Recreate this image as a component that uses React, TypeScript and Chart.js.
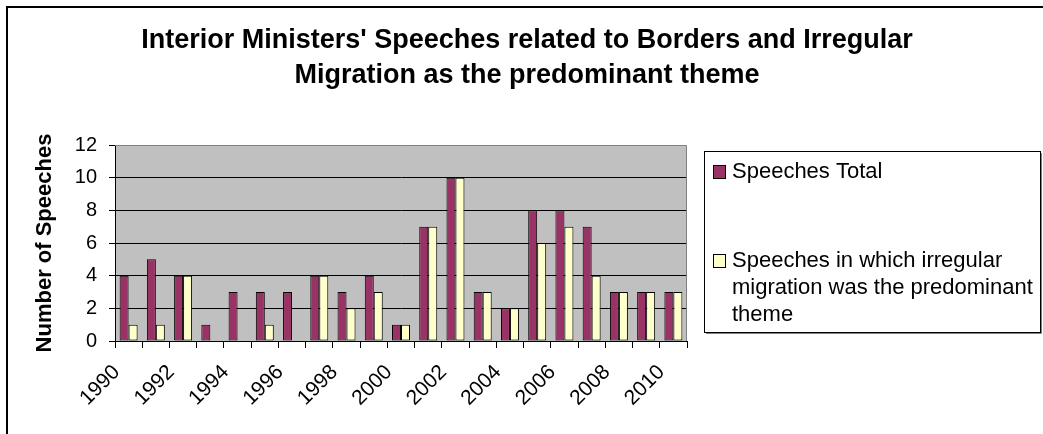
import React, { useEffect, useRef } from "react";
import { Chart, registerables } from "chart.js";

Chart.register(...registerables);

const years = [
  "1990", "1991", "1992", "1993", "1994", "1995", "1996", "1997", "1998", "1999", "2000",
  "2001", "2002", "2003", "2004", "2005", "2006", "2007", "2008", "2009", "2010",
];
const speechesTotal = [4, 5, 4, 1, 3, 3, 3, 4, 3, 4, 1, 7, 10, 3, 2, 8, 8, 7, 3, 3, 3];
const speechesMigration = [1, 1, 4, 0, 0, 1, 0, 4, 2, 3, 1, 7, 10, 3, 2, 6, 7, 4, 3, 3, 3];

const seriesLabels = [
  "Speeches Total",
  "Speeches in which irregular migration was the predominant theme",
];
const titleLines = [
  "Interior Ministers' Speeches related to Borders and Irregular",
  "Migration as the predominant theme",
];
const yAxisTitle = "Number of Speeches";

const FONT = "'Liberation Sans', Arial, sans-serif";

const decorPlugin = {
  id: "decor",
  beforeDraw(chart: any) {
    const { ctx, chartArea: a } = chart;
    ctx.save();
    ctx.fillStyle = "#ffffff";
    ctx.fillRect(0, 0, chart.width, chart.height);
    ctx.fillStyle = "#C0C0C0";
    ctx.fillRect(a.left, a.top, a.right - a.left, a.bottom - a.top);
    // outer frame (left and top edges)
    ctx.strokeStyle = "#000";
    ctx.lineWidth = 2;
    ctx.beginPath();
    ctx.moveTo(7, chart.height);
    ctx.lineTo(7, 7);
    ctx.lineTo(chart.width, 7);
    ctx.stroke();
    ctx.restore();
  },
  beforeDatasetsDraw(chart: any) {
    const { ctx, chartArea: a } = chart;
    ctx.save();
    ctx.strokeStyle = "#808080";
    ctx.lineWidth = 1;
    ctx.beginPath();
    ctx.moveTo(a.left, a.top + 0.5);
    ctx.lineTo(a.right - 0.5, a.top + 0.5);
    ctx.lineTo(a.right - 0.5, a.bottom);
    ctx.stroke();
    ctx.restore();
  },
  afterDraw(chart: any) {
    const { ctx } = chart;
    ctx.save();
    // title
    ctx.fillStyle = "#000";
    ctx.font = `bold 27px ${FONT}`;
    ctx.textAlign = "center";
    ctx.textBaseline = "middle";
    ctx.fillText(titleLines[0], 527, 41);
    ctx.fillText(titleLines[1], 527, 76);

    // legend box
    const bx = 704, by = 151, bw = 336, bh = 181;
    ctx.fillStyle = "#fff";
    ctx.fillRect(bx, by, bw, bh);
    ctx.strokeStyle = "#808080";
    ctx.lineWidth = 1;
    ctx.beginPath();
    ctx.moveTo(bx + bw + 1.5, by + 2);
    ctx.lineTo(bx + bw + 1.5, by + bh + 1.5);
    ctx.lineTo(bx + 2, by + bh + 1.5);
    ctx.stroke();
    ctx.strokeStyle = "#000";
    ctx.strokeRect(bx + 0.5, by + 0.5, bw, bh);

    ctx.font = `22px ${FONT}`;
    ctx.textAlign = "left";
    ctx.textBaseline = "middle";
    const textX = 732;
    const maxW = 304;
    const lineH = 27;
    const itemY = [172, 261];
    chart.data.datasets.forEach((ds: any, i: number) => {
      const y0 = itemY[i];
      ctx.fillStyle = ds.backgroundColor;
      ctx.fillRect(713, y0 - 7, 12, 13);
      ctx.strokeStyle = "#000";
      ctx.strokeRect(713.5, y0 - 6.5, 12, 13);
      // wrap the label to the box width
      const words = String(ds.label).split(" ");
      const lines: string[] = [];
      let cur = "";
      for (const w of words) {
        const test = cur ? cur + " " + w : w;
        if (ctx.measureText(test).width > maxW && cur) {
          lines.push(cur);
          cur = w;
        } else {
          cur = test;
        }
      }
      if (cur) lines.push(cur);
      ctx.fillStyle = "#000";
      lines.forEach((ln, k) => ctx.fillText(ln, textX, y0 + k * lineH));
    });
    ctx.restore();
  },
};

export default function App() {
  const canvasRef = useRef<HTMLCanvasElement | null>(null);

  useEffect(() => {
    if (!canvasRef.current) return;
    const zeroless = (ctx: any) => (ctx.raw === 0 ? 0 : 1);
    const chart = new Chart(canvasRef.current, {
      type: "bar",
      data: {
        labels: years,
        datasets: [
          {
            label: seriesLabels[0],
            data: speechesTotal,
            backgroundColor: "#993366",
            borderColor: "#000",
            borderWidth: zeroless,
            borderSkipped: false,
            categoryPercentage: 0.66,
            barPercentage: 1,
          },
          {
            label: seriesLabels[1],
            data: speechesMigration,
            backgroundColor: "#FFFFCC",
            borderColor: "#000",
            borderWidth: zeroless,
            borderSkipped: false,
            categoryPercentage: 0.66,
            barPercentage: 1,
          },
        ],
      },
      options: {
        animation: false,
        responsive: false,
        devicePixelRatio: 1,
        layout: { padding: { left: 0, right: 356, top: 145, bottom: 0 } },
        plugins: {
          legend: { display: false },
          title: { display: false },
          tooltip: { enabled: false },
        },
        scales: {
          x: {
            offset: true,
            grid: {
              offset: true,
              drawOnChartArea: false,
              drawTicks: true,
              tickLength: 7,
              color: "#000",
            },
            border: { color: "#000", width: 1 },
            ticks: {
              autoSkip: false,
              minRotation: 45,
              maxRotation: 45,
              padding: 12,
              labelOffset: -12,
              color: "#000",
              font: { family: FONT, size: 21 },
              callback: (_v: any, i: number) => (i % 2 === 0 ? years[i] : ""),
            },
            afterFit: (s: any) => {
              s.height = 93;
            },
          },
          y: {
            min: 0,
            max: 12,
            grid: {
              color: (c: any) => (c.tick && c.tick.value === 12 ? "rgba(0,0,0,0)" : "#000"),
              tickColor: "#000",
              tickLength: 6,
            },
            border: { color: "#000", width: 1 },
            ticks: {
              stepSize: 2,
              padding: 12,
              color: "#000",
              font: { family: FONT, size: 20 },
            },
            title: {
              display: true,
              text: yAxisTitle,
              color: "#000",
              font: { family: FONT, size: 22, weight: "bold" },
              padding: { top: 32, bottom: 0 },
            },
            afterFit: (s: any) => {
              s.width = 115;
            },
          },
        },
      },
      plugins: [decorPlugin],
    });
    return () => chart.destroy();
  }, []);

  return (
    <div style={{ position: "fixed", left: 0, top: 0, width: 1043, height: 434, background: "#fff" }}>
      <canvas ref={canvasRef} width={1043} height={434} />
    </div>
  );
}
